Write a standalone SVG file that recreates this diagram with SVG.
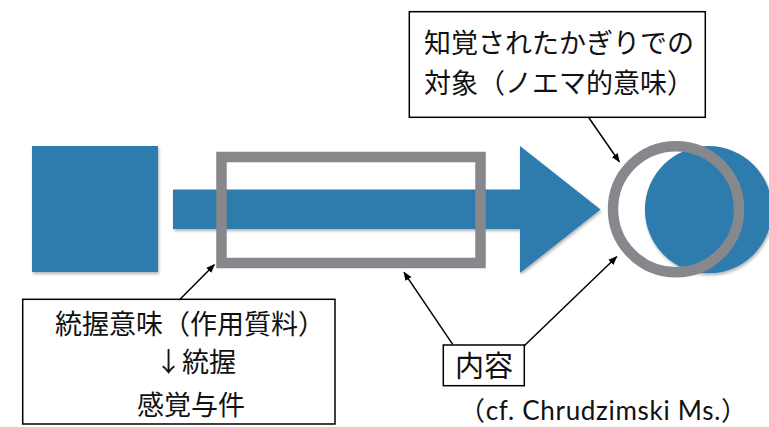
<svg xmlns="http://www.w3.org/2000/svg" width="769" height="427" viewBox="0 0 769 427">
<style>
.blue{fill:#2e7bad;filter:url(#sh)}
.gray{fill:none;stroke:#87888c;stroke-width:10.5}
.box{fill:#fff;stroke:#000;stroke-width:1.5}
.jp{font-family:"Noto Sans CJK JP","Noto Sans CJK SC",sans-serif;fill:#111}
.con{stroke:#000;stroke-width:1.5;fill:none;marker-end:url(#ah)}
</style>
<defs>
<filter id="sh" x="-10%" y="-10%" width="130%" height="130%">
<feDropShadow dx="1" dy="2" stdDeviation="1.5" flood-color="#000" flood-opacity="0.3"/>
</filter>
<marker id="ah" viewBox="0 0 10 10" refX="9" refY="5" markerWidth="6" markerHeight="6" markerUnits="strokeWidth" orient="auto">
<path d="M0,1 L10,5 L0,9 z" fill="#000"/>
</marker>
</defs>
<g id="source-square"><rect class="blue" x="32" y="146" width="126" height="126"/></g>
<g id="flow-arrow"><path class="blue" d="M173,189.5 H520 V146 L600.5,209.5 L520,273 V229 H173 z"/></g>
<g id="content-frame"><rect class="gray" x="221.5" y="157" width="259" height="106"/></g>
<g id="object-disc"><circle class="blue" cx="708.5" cy="209.7" r="63.6"/></g>
<g id="noema-ring"><circle class="gray" cx="676" cy="209.2" r="63"/></g>
<g id="noema-label">
<rect class="box" x="409.3" y="11.7" width="296" height="105.6"/>
<text class="jp" font-size="27" x="424" y="53">知覚されたかぎりでの</text>
<text class="jp" font-size="27" x="424" y="93">対象（ノエマ的意味）</text>
</g>
<g id="apprehension-label">
<rect class="box" x="22.7" y="299.3" width="312.3" height="124.7"/>
<text class="jp" font-size="27" x="55" y="334">統握意味（作用質料）</text>
<text class="jp" font-size="27" x="155" y="372">↓統握</text>
<text class="jp" font-size="27" x="137" y="415">感覚与件</text>
</g>
<g id="content-label">
<rect class="box" x="443.3" y="345" width="81" height="40.7"/>
<text class="jp" font-size="29" x="455" y="377">内容</text>
</g>
<g id="citation">
<text font-family="Lato,'Noto Sans CJK JP',sans-serif" font-size="26" x="459" y="420" fill="#111" textLength="288" lengthAdjust="spacing">（cf. Chrudzimski Ms.）</text>
</g>
<g id="connectors">
<line class="con" x1="589" y1="118" x2="619.3" y2="161.7"/>
<line class="con" x1="179.3" y1="300" x2="214.3" y2="264.7"/>
<line class="con" x1="452.7" y1="344.3" x2="404" y2="272.3"/>
<line class="con" x1="524" y1="346" x2="616.7" y2="256.7"/>
</g>
</svg>
